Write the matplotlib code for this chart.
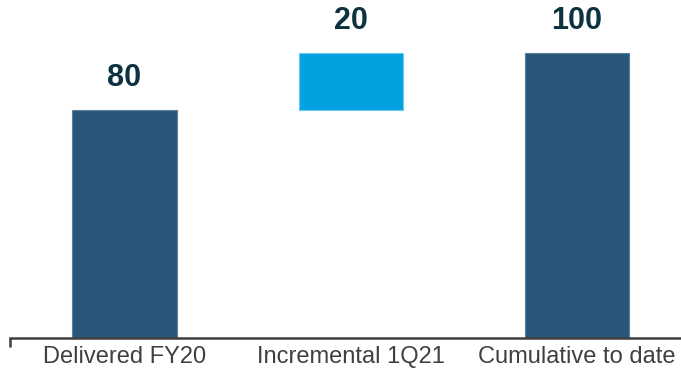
import matplotlib
matplotlib.use("Agg")
import matplotlib.pyplot as plt
from matplotlib.lines import Line2D

categories = ["Delivered FY20", "Incremental 1Q21", "Cumulative to date"]
values = [80, 20, 100]
bottoms = [0, 80, 0]
bar_colors = ["#29577a", "#00a2e0", "#29577a"]
edge_colors = ["#5a7f9a", "#6ccaf0", "#5a7f9a"]

plt.rcParams["font.family"] = ["Liberation Sans", "DejaVu Sans"]

fig = plt.figure(figsize=(6.81, 3.71), dpi=100)
ax = fig.add_axes([10 / 681, 33 / 371, 671 / 681, 314 / 371])

xs = list(range(len(categories)))
ax.bar(xs, values, bottom=bottoms, width=0.46, color=bar_colors,
       edgecolor=edge_colors, linewidth=0.8)

for x, v, b in zip(xs, values, bottoms):
    ax.annotate(f"{v}", (x, v + b), xytext=(0, 12), textcoords="offset points",
                ha="center", va="bottom", fontsize=22, fontweight="bold",
                color="#0d3341", annotation_clip=False)

ax.set_xlim(-0.506, 2.46)
ax.set_ylim(0, 110)
ax.set_xticks(xs)
ax.set_xticklabels(categories, fontsize=17, color="#404040")
ax.tick_params(axis="x", length=0, pad=6)
ax.set_yticks([])

for side in ["left", "right", "top"]:
    ax.spines[side].set_visible(False)
ax.spines["bottom"].set_color("#3f3f3f")
ax.spines["bottom"].set_linewidth(1.8)

# small end tick on the left of the baseline
ax.add_line(Line2D([0, 0], [0, -9 / 314], transform=ax.transAxes,
                   color="#3f3f3f", linewidth=1.8, clip_on=False,
                   solid_capstyle="butt"))

fig.savefig("out.png", dpi=100)
